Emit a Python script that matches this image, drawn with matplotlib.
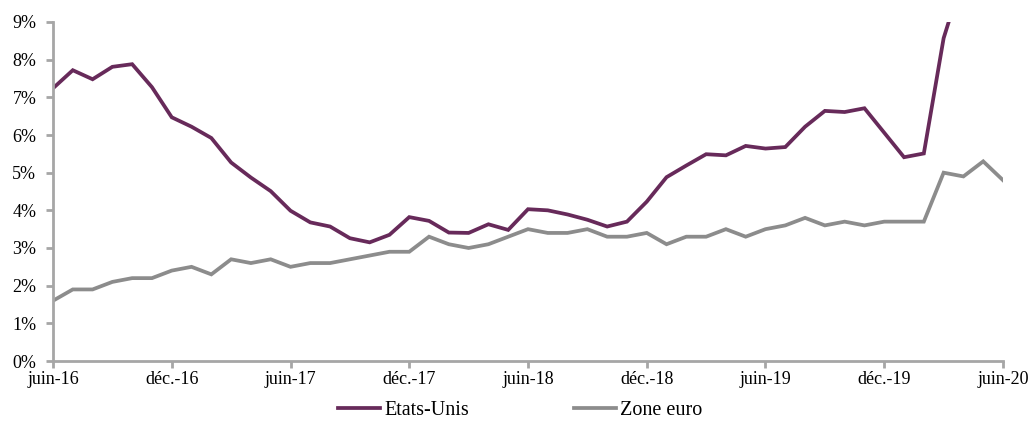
import matplotlib
matplotlib.use("Agg")
from matplotlib import pyplot as plt
from matplotlib.ticker import FuncFormatter

# Monthly series, June 2016 -> June 2020 (% y/y)
months = list(range(49))
tick_pos = [0, 6, 12, 18, 24, 30, 36, 42, 48]
tick_labels = ["juin-16", "déc.-16", "juin-17", "déc.-17", "juin-18",
               "déc.-18", "juin-19", "déc.-19", "juin-20"]

etats_unis = [7.24, 7.72, 7.48, 7.81, 7.88, 7.27, 6.47, 6.22, 5.92, 5.27,
              4.87, 4.51, 3.99, 3.68, 3.57, 3.26, 3.15, 3.35, 3.82, 3.72,
              3.41, 3.40, 3.63, 3.48, 4.03, 4.00, 3.89, 3.75, 3.57, 3.70,
              4.23, 4.88, 5.19, 5.49, 5.46, 5.71, 5.64, 5.68, 6.22, 6.64,
              6.61, 6.71, 6.06, 5.41, 5.51, 8.57, 10.25]

zone_euro = [1.6, 1.9, 1.9, 2.1, 2.2, 2.2, 2.4, 2.5, 2.3, 2.7,
             2.6, 2.7, 2.5, 2.6, 2.6, 2.7, 2.8, 2.9, 2.9, 3.3,
             3.1, 3.0, 3.1, 3.3, 3.5, 3.4, 3.4, 3.5, 3.3, 3.3,
             3.4, 3.1, 3.3, 3.3, 3.5, 3.3, 3.5, 3.6, 3.8, 3.6,
             3.7, 3.6, 3.7, 3.7, 3.7, 5.0, 4.9, 5.3, 4.8]

PURPLE = "#672a5a"
GREY = "#8c8c8c"
AXIS = "#a6a6a6"

plt.rcParams["font.family"] = ["Liberation Serif", "DejaVu Serif"]

fig = plt.figure(figsize=(10.31, 4.21), dpi=100)
ax = fig.add_axes([53 / 1031, 60 / 421, 950 / 1031, 339 / 421])

ax.plot(months[:len(etats_unis)], etats_unis, color=PURPLE, lw=2.7,
        label="Etats-Unis", solid_joinstyle="miter")
ax.plot(months, zone_euro, color=GREY, lw=2.7, label="Zone euro",
        solid_joinstyle="miter")

ax.set_xlim(0, 48)
ax.set_ylim(0, 9)
ax.set_yticks(range(10))
ax.yaxis.set_major_formatter(FuncFormatter(lambda v, p: "%d%%" % v))
ax.set_xticks(tick_pos)
ax.set_xticklabels(tick_labels)

for side in ("top", "right"):
    ax.spines[side].set_visible(False)
for side in ("left", "bottom"):
    ax.spines[side].set_color(AXIS)
    ax.spines[side].set_linewidth(2)
ax.tick_params(colors=AXIS, width=2, length=5, labelcolor="black",
               labelsize=13)
ax.tick_params(axis="x", pad=2)
ax.tick_params(axis="y", pad=7)

fig.legend(loc="center", bbox_to_anchor=(520 / 1031, 11 / 421), ncol=2,
           frameon=False, fontsize=14.5, handlelength=2.1,
           handletextpad=0.2, columnspacing=5.2, borderpad=0)

fig.savefig("out.png", dpi=100)
